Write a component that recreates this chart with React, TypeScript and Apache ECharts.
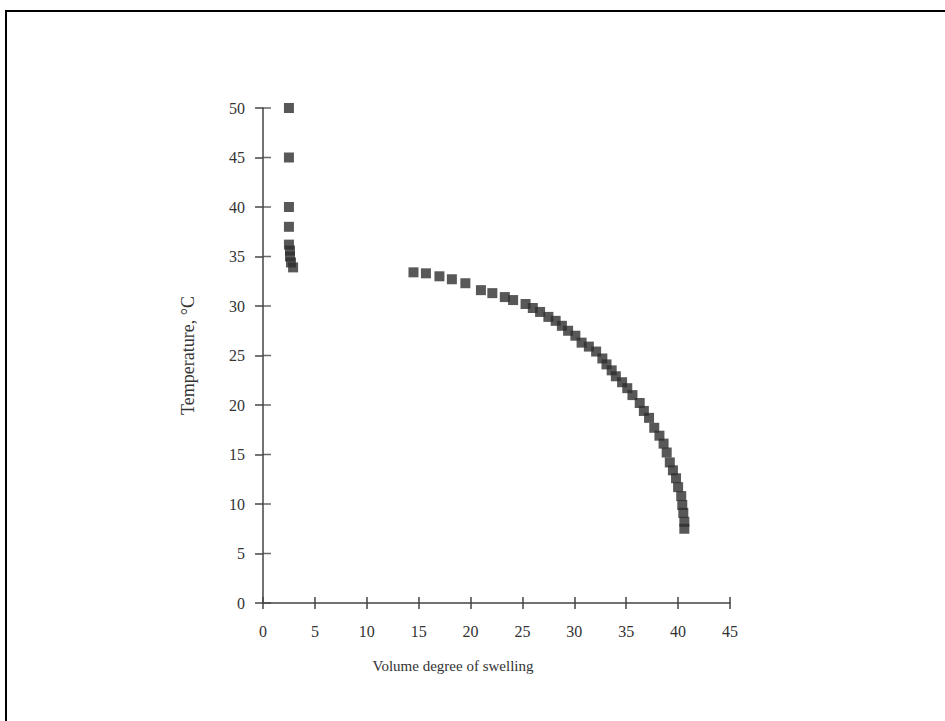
import React, { useEffect, useRef } from "react";
import * as echarts from "echarts";

// Collapsed (high-temperature) branch
const collapsedSwelling = [2.5, 2.5, 2.5, 2.5, 2.5, 2.6, 2.6, 2.7, 2.9];
const collapsedTemp = [50, 45, 40, 38, 36.2, 35.6, 35.0, 34.4, 33.9];

// Swollen branch
const swollenSwelling = [
  14.5, 15.7, 17.0, 18.2, 19.5, 21.0, 22.1, 23.3, 24.1, 25.3, 26.0, 26.7, 27.5,
  28.2, 28.8, 29.4, 30.1, 30.7, 31.4, 32.1, 32.7, 33.1, 33.6, 34.0, 34.6, 35.1,
  35.6, 36.3, 36.7, 37.2, 37.7, 38.2, 38.6, 38.9, 39.2, 39.5, 39.8, 40.0, 40.3,
  40.4, 40.5, 40.6, 40.6,
];
const swollenTemp = [
  33.4, 33.3, 33.0, 32.7, 32.3, 31.6, 31.3, 30.9, 30.6, 30.2, 29.8, 29.4, 28.9,
  28.5, 28.0, 27.5, 27.0, 26.3, 25.9, 25.4, 24.7, 24.1, 23.5, 22.9, 22.3, 21.7,
  21.0, 20.2, 19.4, 18.7, 17.7, 16.9, 16.1, 15.2, 14.2, 13.4, 12.6, 11.7, 10.8,
  9.9, 9.1, 8.2, 7.5,
];

// Temperature tick values (inner halves of the cross ticks on the y axis)
const tempTicks = [0, 5, 10, 15, 20, 25, 30, 35, 40, 45, 50];

const xTitle = "Volume degree of swelling";
const yTitle = "Temperature, °C";

const FONT = "'Liberation Serif', 'DejaVu Serif', serif";
const INK = "#333333";
const AXIS = "#444444";

const GRID = { left: 263, right: 215, top: 108, bottom: 118 };

const pairs = (xs: number[], ys: number[]) => xs.map((x, i) => [x, ys[i]]);

export default function App() {
  const ref = useRef<HTMLDivElement>(null);

  useEffect(() => {
    if (!ref.current) return;
    const chart = echarts.init(ref.current, null, { renderer: "svg" });

    const baseX = {
      type: "value" as const,
      min: 0,
      max: 45,
      interval: 5,
      splitLine: { show: false },
    };
    const tickStyle = { color: AXIS, width: 1.5 };

    chart.setOption({
      animation: false,
      backgroundColor: "#ffffff",
      grid: { ...GRID, containLabel: false },
      graphic: [
        {
          type: "polyline",
          shape: { points: [[6, 721], [6, 11], [945, 11]] },
          style: { stroke: "#000", lineWidth: 2, fill: "none" },
          silent: true,
        },
      ],
      xAxis: [
        {
          ...baseX,
          name: xTitle,
          nameLocation: "middle",
          nameGap: 55,
          nameTextStyle: {
            fontFamily: FONT,
            fontSize: 15,
            color: INK,
            padding: [0, 87, 0, 0],
          },
          axisLine: { lineStyle: { color: AXIS, width: 1.5 } },
          axisTick: { length: 6, lineStyle: tickStyle },
          axisLabel: { margin: 20, fontFamily: FONT, fontSize: 16, color: INK },
        },
        {
          // upper halves of the cross ticks on the x axis
          ...baseX,
          position: "bottom",
          offset: 0,
          axisLine: { show: false },
          axisTick: { inside: true, length: 6, lineStyle: tickStyle },
          axisLabel: { show: false },
        },
      ],
      yAxis: {
        type: "value",
        min: 0,
        max: 50,
        interval: 5,
        splitLine: { show: false },
        name: yTitle,
        nameLocation: "middle",
        nameGap: 66,
        nameTextStyle: { fontFamily: FONT, fontSize: 18, color: INK },
        axisLine: { lineStyle: { color: AXIS, width: 1.5 } },
        axisTick: { length: 8, lineStyle: tickStyle },
        axisLabel: { margin: 18, fontFamily: FONT, fontSize: 16, color: INK },
      },
      series: [
        {
          // inner halves of the y-axis cross ticks
          type: "scatter",
          xAxisIndex: 0,
          yAxisIndex: 0,
          symbol: "rect",
          symbolSize: [8, 1.5],
          symbolOffset: [4, 0],
          itemStyle: { color: AXIS },
          silent: true,
          data: tempTicks.map((t) => [0, t]),
          z: 1,
        },
        {
          type: "scatter",
          xAxisIndex: 0,
          yAxisIndex: 0,
          symbol: "rect",
          symbolSize: 10,
          itemStyle: { color: "#2e2e2e" },
          data: pairs(collapsedSwelling, collapsedTemp),
        },
        {
          type: "scatter",
          xAxisIndex: 0,
          yAxisIndex: 0,
          symbol: "rect",
          symbolSize: 10,
          itemStyle: { color: "#2e2e2e" },
          data: pairs(swollenSwelling, swollenTemp),
        },
      ],
    });

    return () => chart.dispose();
  }, []);

  return (
    <div
      ref={ref}
      style={{ position: "absolute", left: 0, top: 0, width: 945, height: 721 }}
    />
  );
}
